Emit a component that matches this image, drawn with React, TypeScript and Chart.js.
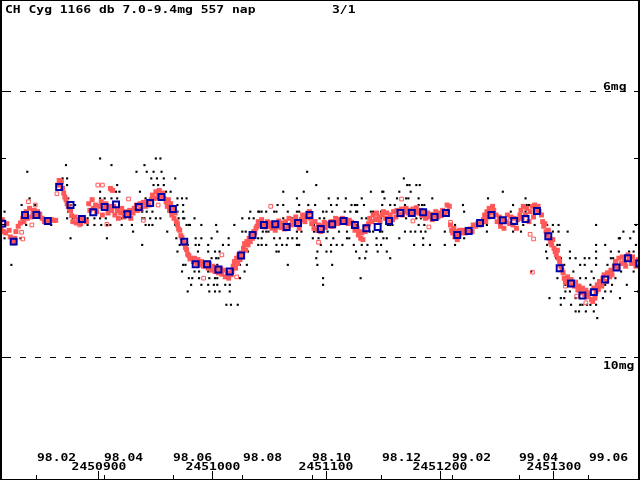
import { useEffect, useRef } from 'react'
import { Chart, registerables } from 'chart.js'

Chart.register(...registerables)

// header texts
const title = 'CH Cyg 1166 db 7.0-9.4mg 557 nap'
const pageLabel = '3/1'

// x axis: JD - 2450000
const xMin = 813
const xMax = 1375.6
const monthTicks = [845.5, 904.5, 965.5, 1026.5, 1087.5, 1148.5, 1210.5, 1269.5, 1330.5]
const monthLabels = ['98.02', '98.04', '98.06', '98.08', '98.10', '98.12', '99.02', '99.04', '99.06']
const jdTicks = [900, 1000, 1100, 1200, 1300]
const jdLabels = ['2450900', '2451000', '2451100', '2451200', '2451300']

// y axis: magnitude (reversed)
const yMin = 4.617
const yMax = 11.835
const magTicks = [6, 7, 8, 9, 10]
const dashedMags = [6, 10]
const dashedLabels = ['6mg', '10mg']

// 10-day means
const meanDays = [
  815, 825, 835, 845, 855, 865, 875, 885, 895, 905, 915, 925, 935, 945, 955, 965, 975, 985, 995,
  1005, 1015, 1025, 1035, 1045, 1055, 1065, 1075, 1085, 1095, 1105, 1115, 1125, 1135, 1145, 1155,
  1165, 1175, 1185, 1195, 1205, 1215, 1225, 1235, 1245, 1255, 1265, 1275, 1285, 1295, 1305, 1315,
  1325, 1335, 1345, 1355, 1365, 1375,
]
const meanMags = [
  7.98, 8.25, 7.85, 7.85, 7.94, 7.43, 7.7, 7.91, 7.81, 7.73, 7.69, 7.84, 7.73, 7.67, 7.58, 7.76, 8.25,
  8.59, 8.59, 8.67, 8.7, 8.46, 8.15, 8.0, 7.99, 8.03, 7.97, 7.85, 8.06, 7.99, 7.94, 8.0, 8.05, 8.03,
  7.94, 7.82, 7.82, 7.81, 7.88, 7.82, 8.15, 8.09, 7.97, 7.85, 7.93, 7.94, 7.91, 7.79, 8.17, 8.65,
  8.88, 9.06, 9.01, 8.82, 8.64, 8.5, 8.58,
]

// individual estimates (black), grouped by magnitude row
const visualMags = [7.0, 7.1, 7.2, 7.3, 7.4, 7.5, 7.6, 7.7, 7.8, 7.9, 8.0, 8.1, 8.2, 8.3, 8.4, 8.5, 8.6, 8.7, 8.8, 8.9, 9.0, 9.1, 9.2, 9.3, 9.4]
const visualDays = [
  [901, 950, 954],
  [871, 911, 940],
  [837, 933, 942, 948, 955, 1083],
  [868, 872, 946, 951, 957, 967, 1168],
  [872, 916, 948, 952, 957, 1091, 1171, 1173, 1179, 1182],
  [901, 915, 918, 936, 959, 963, 1062, 1080, 1139, 1149, 1150, 1164, 1174, 1255],
  [839, 873, 901, 905, 911, 916, 941, 946, 951, 969, 973, 977, 1074, 1102, 1110, 1117, 1131, 1151, 1162, 1170, 1172, 1181, 1193, 1242, 1275],
  [832, 844, 875, 879, 891, 902, 912, 969, 974, 1057, 1062, 1076, 1084, 1090, 1104, 1109, 1122, 1125, 1127, 1133, 1149, 1156, 1160, 1169, 1181, 1184, 1186, 1220, 1264, 1276, 1278],
  [817, 873, 876, 912, 916, 922, 924, 934, 938, 942, 947, 969, 974, 1033, 1040, 1041, 1043, 1047, 1054, 1056, 1066, 1074, 1076, 1097, 1100, 1105, 1116, 1121, 1126, 1127, 1139, 1141, 1148, 1151, 1160, 1171, 1178, 1181, 1221, 1243, 1262, 1275, 1287],
  [872, 877, 890, 896, 901, 906, 920, 928, 938, 940, 945, 950, 954, 970, 974, 975, 984, 1026, 1032, 1036, 1062, 1070, 1073, 1077, 1094, 1098, 1110, 1131, 1135, 1144, 1148, 1153, 1170, 1179, 1183, 1188, 1197],
  [836, 858, 890, 896, 902, 907, 910, 920, 929, 941, 944, 947, 967, 977, 979, 980, 990, 1003, 1019, 1038, 1072, 1089, 1096, 1127, 1154, 1156, 1158, 1181, 1186, 1213, 1241, 1254, 1273, 1283, 1294, 1299, 1304, 1337, 1372],
  [817, 930, 960, 1004, 1026, 1029, 1044, 1047, 1049, 1074, 1078, 1089, 1097, 1101, 1111, 1118, 1128, 1135, 1138, 1141, 1147, 1149, 1169, 1174, 1178, 1183, 1187, 1204, 1241, 1264, 1271, 1295, 1299, 1304, 1312, 1361, 1370],
  [817, 831, 875, 907, 968, 985, 990, 999, 1014, 1040, 1043, 1054, 1059, 1066, 1070, 1074, 1088, 1093, 1100, 1106, 1118, 1120, 1144, 1150, 1153, 1164, 1185, 1221, 1357, 1358, 1367],
  [938, 971, 974, 978, 985, 988, 996, 1009, 1014, 1040, 1043, 1047, 1056, 1061, 1065, 1074, 1076, 1095, 1104, 1109, 1114, 1124, 1131, 1136, 1144, 1148, 1177, 1185, 1191, 1204, 1213, 1294, 1303, 1305, 1337, 1345, 1372],
  [969, 987, 996, 1002, 1006, 1031, 1056, 1058, 1092, 1100, 1104, 1126, 1135, 1145, 1153, 1293, 1314, 1337, 1350, 1357, 1366, 1370],
  [999, 1003, 1005, 1091, 1129, 1134, 1156, 1294, 1302, 1306, 1314, 1319, 1327, 1331, 1337, 1350, 1352, 1358, 1361],
  [823, 974, 976, 992, 1004, 1024, 1030, 1066, 1092, 1105, 1306, 1309, 1323, 1327, 1337, 1347, 1352, 1372],
  [973, 984, 988, 996, 1002, 1028, 1280, 1308, 1317, 1333, 1351, 1359, 1370],
  [979, 982, 988, 997, 1002, 1004, 1024, 1097, 1130, 1303, 1323, 1328, 1335, 1354],
  [981, 990, 996, 1001, 1004, 1011, 1015, 1097, 1310, 1332, 1345, 1351, 1364],
  [978, 997, 1002, 1006, 1015, 1310, 1314, 1323, 1337, 1345, 1350, 1374],
  [1296, 1306, 1309, 1319, 1343, 1358],
  [1012, 1016, 1022, 1306, 1315, 1323, 1325, 1329, 1332, 1337],
  [1319, 1322, 1328, 1335],
  [1338],
]

// red estimates [day, mag]
const redObs: [number, number][] = [
  [813, 7.95], [814, 8.05], [815, 7.92], [816, 8.1], [818, 8.12], [819, 7.98], [821, 8.08],
  [822, 8.18], [824, 8.22], [825, 8.27], [826, 8.2],
  [827, 8.1], [829, 8.02], [831, 7.97], [833, 7.9], [834, 7.95], [835, 7.85],
  [836, 7.8], [837, 7.9], [839, 7.75], [840, 7.88], [842, 7.82], [843, 7.78], [845, 7.86], [846, 7.8], [848, 7.84], [850, 7.9],
  [852, 7.95], [854, 7.92], [856, 7.94], [858, 7.92], [860, 7.93], [862, 7.93],
  [864, 7.4], [865, 7.33], [866, 7.38], [867, 7.35],
  [868, 7.45], [869, 7.52], [870, 7.58], [871, 7.62], [872, 7.68], [873, 7.72], [874, 7.76], [875, 7.78],
  [876, 7.86], [877, 7.95], [879, 7.88], [880, 7.97], [882, 7.92], [884, 7.98], [885, 7.9], [887, 7.93], [889, 7.95],
  [891, 7.68], [892, 7.78], [894, 7.62], [895, 7.75], [897, 7.7], [898, 7.8], [900, 7.72],
  [902, 7.65], [903, 7.85], [905, 7.75], [906, 7.68], [908, 7.82], [909, 7.72], [910, 7.45], [911, 7.78], [912, 7.48],
  [913, 7.72], [914, 7.85], [916, 7.78], [917, 7.9], [919, 7.82], [920, 7.75], [922, 7.88], [924, 7.8], [925, 7.85], [927, 7.78], [928, 7.9], [930, 7.82],
  [931, 7.75], [933, 7.7], [934, 7.78], [936, 7.68], [937, 7.76], [939, 7.66], [941, 7.72], [942, 7.65], [944, 7.7],
  [946, 7.62], [947, 7.55], [949, 7.6], [950, 7.5], [952, 7.56], [953, 7.48], [955, 7.58], [956, 7.52], [957, 7.6],
  [959, 7.65], [960, 7.72], [961, 7.62], [962, 7.78], [963, 7.68], [964, 7.85], [965, 7.75], [966, 7.9], [967, 7.82], [968, 7.95],
  [969, 8.0], [970, 8.06], [971, 8.08], [972, 8.16], [973, 8.19], [974, 8.26], [975, 8.27], [976, 8.34], [977, 8.37], [978, 8.44], [979, 8.46], [980, 8.51], [981, 8.5],
  [983, 8.55], [984, 8.5], [986, 8.58], [987, 8.52], [989, 8.6], [990, 8.55], [992, 8.62], [993, 8.57], [995, 8.6],
  [996, 8.65], [997, 8.58], [999, 8.68], [1000, 8.62], [1002, 8.7], [1003, 8.64], [1005, 8.72],
  [1007, 8.66], [1008, 8.74], [1010, 8.68], [1011, 8.78], [1013, 8.72], [1014, 8.8], [1016, 8.75], [1017, 8.7],
  [1018, 8.62], [1019, 8.55], [1020, 8.65], [1021, 8.5], [1022, 8.58], [1023, 8.45], [1024, 8.52], [1025, 8.42], [1026, 8.48],
  [1027, 8.35], [1028, 8.28], [1029, 8.38], [1030, 8.25], [1031, 8.3], [1032, 8.2], [1033, 8.25], [1034, 8.15], [1035, 8.2], [1036, 8.1], [1037, 8.12], [1038, 8.05],
  [1039, 8.02], [1040, 7.95], [1042, 8.0], [1043, 7.92], [1045, 7.98], [1046, 8.03], [1048, 7.95], [1049, 8.02], [1051, 7.97],
  [1052, 8.05], [1054, 7.98], [1055, 8.08], [1057, 8.0], [1058, 7.94], [1060, 8.04], [1061, 7.97],
  [1063, 8.06], [1064, 7.95], [1066, 8.02], [1067, 7.9], [1069, 8.0], [1070, 7.93], [1072, 7.98], [1073, 7.88], [1075, 7.96], [1076, 8.05], [1078, 7.92], [1079, 7.85], [1081, 7.95], [1082, 7.88],
  [1084, 7.82], [1085, 7.8],
  [1086, 7.9], [1087, 7.98], [1089, 8.05], [1090, 7.95], [1092, 8.08], [1093, 8.0], [1095, 8.1],
  [1096, 8.02], [1098, 7.96], [1099, 8.04], [1101, 7.98], [1102, 8.0], [1104, 7.95], [1105, 8.02],
  [1107, 7.95], [1108, 7.9], [1110, 7.98], [1111, 7.92], [1113, 7.96], [1114, 7.9], [1116, 7.95], [1117, 7.92], [1119, 7.98], [1120, 7.93], [1122, 7.96],
  [1124, 8.0], [1125, 8.08], [1127, 8.05], [1128, 8.15], [1129, 8.1], [1130, 8.2], [1131, 8.12], [1132, 8.22], [1134, 8.1], [1135, 8.02],
  [1137, 7.98], [1138, 7.9], [1140, 7.95], [1141, 7.85], [1143, 7.92], [1144, 7.82], [1146, 7.88], [1147, 7.95], [1149, 7.85],
  [1150, 7.8], [1152, 7.9], [1153, 7.82], [1155, 7.95], [1156, 7.85], [1158, 7.92], [1159, 7.8], [1161, 7.88], [1162, 7.78], [1164, 7.84],
  [1166, 7.76], [1167, 7.85], [1169, 7.8], [1170, 7.75], [1172, 7.82], [1173, 7.78], [1175, 7.84], [1176, 7.76], [1178, 7.8], [1179, 7.74], [1181, 7.82],
  [1183, 7.78], [1184, 7.86], [1186, 7.8], [1187, 7.9], [1189, 7.82], [1190, 7.88], [1192, 7.84], [1193, 7.92], [1195, 7.86], [1196, 7.8], [1198, 7.88], [1199, 7.82], [1201, 7.86], [1202, 7.78], [1204, 7.84], [1205, 7.8],
  [1206, 7.7], [1208, 7.72],
  [1209, 8.0], [1210, 8.08], [1211, 8.12], [1212, 8.05], [1213, 8.18], [1214, 8.1], [1215, 8.22], [1216, 8.15], [1217, 8.08], [1218, 8.12],
  [1220, 8.08], [1222, 8.12], [1224, 8.1], [1226, 8.06], [1228, 8.1],
  [1229, 8.0], [1231, 8.02], [1233, 7.98], [1235, 8.0], [1236, 7.96],
  [1238, 7.92], [1239, 7.85], [1240, 7.95], [1241, 7.8], [1242, 7.88], [1243, 7.75], [1244, 7.82], [1246, 7.72], [1247, 7.78],
  [1249, 7.85], [1250, 7.95], [1252, 7.88], [1253, 8.02], [1255, 7.92], [1256, 8.05], [1258, 7.95],
  [1259, 7.85], [1261, 7.98], [1262, 7.88], [1264, 8.0], [1265, 7.9], [1267, 8.05], [1268, 7.92], [1270, 7.85],
  [1271, 7.78], [1272, 7.9], [1273, 7.72], [1275, 7.85], [1276, 7.75], [1278, 7.95], [1279, 7.8], [1281, 7.72], [1282, 7.88],
  [1283, 7.7], [1284, 7.78], [1286, 7.72], [1287, 7.8], [1289, 7.85],
  [1290, 7.95], [1291, 8.02], [1292, 7.98], [1293, 8.1], [1294, 8.15], [1295, 8.08], [1296, 8.2], [1297, 8.25], [1298, 8.3], [1299, 8.22], [1300, 8.35], [1301, 8.4], [1302, 8.45], [1303, 8.38],
  [1304, 8.5], [1305, 8.55], [1306, 8.62], [1307, 8.68], [1308, 8.72],
  [1309, 8.8], [1310, 8.85], [1312, 8.78], [1313, 8.88], [1315, 8.82], [1316, 8.9],
  [1318, 8.92], [1319, 8.86], [1321, 8.98], [1322, 8.92], [1324, 9.02], [1325, 8.95], [1327, 9.05], [1328, 8.98], [1330, 9.08], [1331, 9.02], [1333, 9.12],
  [1334, 9.15], [1336, 9.1],
  [1335, 8.95], [1337, 9.0], [1338, 8.9], [1339, 8.97], [1340, 8.85], [1342, 8.92],
  [1343, 8.8], [1344, 8.75], [1346, 8.85], [1347, 8.72], [1349, 8.78], [1350, 8.68], [1351, 8.75],
  [1353, 8.62], [1354, 8.55], [1356, 8.65], [1357, 8.5], [1359, 8.58], [1360, 8.48], [1362, 8.55], [1363, 8.62],
  [1365, 8.45], [1366, 8.52], [1368, 8.58], [1369, 8.48], [1371, 8.55], [1372, 8.62], [1374, 8.52],
]

// hollow red estimates [day, mag]
const redOpenObs: [number, number][] = [
  [832, 8.11], [833, 8.21], [841, 8.0], [838, 7.65], [844, 7.7], [863, 7.53], [883, 8.0], [899, 7.4],
  [903, 7.4], [907, 7.99], [911, 7.47], [926, 7.61], [939, 7.93], [952, 7.7], [969, 7.97], [992, 8.8],
  [1008, 8.45], [1021, 8.78], [1051, 7.72], [1093, 8.26], [1166, 7.61], [1176, 7.94], [1190, 8.03],
  [1209, 7.96], [1245, 7.85], [1279, 8.14], [1282, 8.21], [1281, 8.71], [1310, 8.92], [1320, 9.07], [1328, 9.17],
]

const FONT = 'bold 10px "DejaVu Sans Mono", monospace'

function drawText(ctx: CanvasRenderingContext2D, text: string, x: number, y: number, align: CanvasTextAlign) {
  ctx.save()
  ctx.translate(x, y)
  ctx.scale(1.3, 1)
  ctx.textAlign = align
  ctx.textBaseline = 'alphabetic'
  ctx.fillText(text, 0, 0)
  ctx.restore()
}

const framePlugin = {
  id: 'aavsoFrame',
  beforeDatasetsDraw(chart: any) {
    const { ctx, scales } = chart
    const yScale = scales.y
    ctx.save()
    ctx.strokeStyle = '#000'
    ctx.lineWidth = 1
    ctx.setLineDash([6, 9])
    ctx.lineDashOffset = -5
    dashedMags.forEach((m) => {
      const py = Math.floor(yScale.getPixelForValue(m)) + 0.5
      ctx.beginPath()
      ctx.moveTo(0, py)
      ctx.lineTo(chart.width, py)
      ctx.stroke()
    })
    ctx.restore()
  },
  afterDraw(chart: any) {
    const { ctx, scales, width, height } = chart
    const xScale = scales.x
    const yScale = scales.y
    ctx.save()
    ctx.strokeStyle = '#000'
    ctx.fillStyle = '#000'

    // frame
    ctx.lineWidth = 1
    ctx.beginPath()
    ctx.moveTo(0, 0.5)
    ctx.lineTo(width, 0.5)
    ctx.moveTo(0, height - 0.5)
    ctx.lineTo(width, height - 0.5)
    ctx.stroke()
    ctx.lineWidth = 2
    ctx.beginPath()
    ctx.moveTo(1, 0)
    ctx.lineTo(1, height)
    ctx.moveTo(width - 1, 0)
    ctx.lineTo(width - 1, height)
    ctx.stroke()

    // magnitude ticks on both sides
    ctx.lineWidth = 1
    magTicks.forEach((m) => {
      const py = Math.floor(yScale.getPixelForValue(m)) + 0.5
      ctx.beginPath()
      ctx.moveTo(0, py)
      ctx.lineTo(6, py)
      ctx.moveTo(width - 6, py)
      ctx.lineTo(width, py)
      ctx.stroke()
    })

    // bottom ticks
    monthTicks.forEach((d) => {
      const px = Math.floor(xScale.getPixelForValue(d)) + 0.5
      ctx.beginPath()
      ctx.moveTo(px, height - 5)
      ctx.lineTo(px, height)
      ctx.stroke()
    })
    jdTicks.forEach((d) => {
      const px = Math.floor(xScale.getPixelForValue(d)) + 0.5
      ctx.beginPath()
      ctx.moveTo(px, height - 9)
      ctx.lineTo(px, height)
      ctx.stroke()
    })

    // texts
    ctx.font = FONT
    drawText(ctx, title, 5, 13, 'left')
    drawText(ctx, pageLabel, 332, 13, 'left')
    monthTicks.forEach((d, i) => {
      drawText(ctx, monthLabels[i], Math.round(xScale.getPixelForValue(d)), 461, 'left')
    })
    jdTicks.forEach((d, i) => {
      drawText(ctx, jdLabels[i], Math.round(xScale.getPixelForValue(d)), 470, 'center')
    })
    dashedMags.forEach((m, i) => {
      const py = yScale.getPixelForValue(m)
      drawText(ctx, dashedLabels[i], 603, i === 0 ? py - 2 : py + 11, 'left')
    })
    ctx.restore()
  },
}

export default function App() {
  const canvasRef = useRef<HTMLCanvasElement>(null)

  useEffect(() => {
    document.body.style.margin = '0'
    if (!canvasRef.current) return

    const visualPoints = visualMags.flatMap((m, i) => visualDays[i].map((d) => ({ x: d, y: m })))
    const redPoints = redObs.map(([d, m]) => ({ x: d, y: m }))
    const redOpenPoints = redOpenObs.map(([d, m]) => ({ x: d, y: m }))
    const meanPoints = meanDays.map((d, i) => ({ x: d, y: meanMags[i] }))

    const chart = new Chart(canvasRef.current, {
      type: 'scatter',
      data: {
        datasets: [
          {
            label: '10-day means',
            data: meanPoints,
            pointStyle: 'rect',
            pointRadius: 4.2,
            borderWidth: 2,
            borderColor: '#0000aa',
            backgroundColor: 'rgba(0,0,0,0)',
          },
          {
            label: 'open',
            data: redOpenPoints,
            pointStyle: 'rect',
            pointRadius: 2.6,
            borderWidth: 1,
            borderColor: '#ff5858',
            backgroundColor: 'rgba(0,0,0,0)',
          },
          {
            label: 'red',
            data: redPoints,
            pointStyle: 'rect',
            pointRadius: 3.5,
            borderWidth: 0,
            backgroundColor: '#ff5858',
          },
          {
            label: 'visual',
            data: visualPoints,
            pointStyle: 'rect',
            pointRadius: 1.5,
            borderWidth: 0,
            backgroundColor: '#000',
          },
        ],
      },
      options: {
        animation: false,
        responsive: false,
        events: [],
        layout: { padding: 0, autoPadding: false },
        plugins: {
          legend: { display: false },
          title: { display: false },
          tooltip: { enabled: false },
        },
        scales: {
          x: { type: 'linear', display: false, min: xMin, max: xMax },
          y: { type: 'linear', display: false, reverse: true, min: yMin, max: yMax },
        },
      },
      plugins: [framePlugin],
    })

    return () => {
      chart.destroy()
    }
  }, [])

  return (
    <div style={{ width: 640, height: 480, background: '#fff' }}>
      <canvas ref={canvasRef} width={640} height={480} style={{ display: 'block' }}></canvas>
    </div>
  )
}
